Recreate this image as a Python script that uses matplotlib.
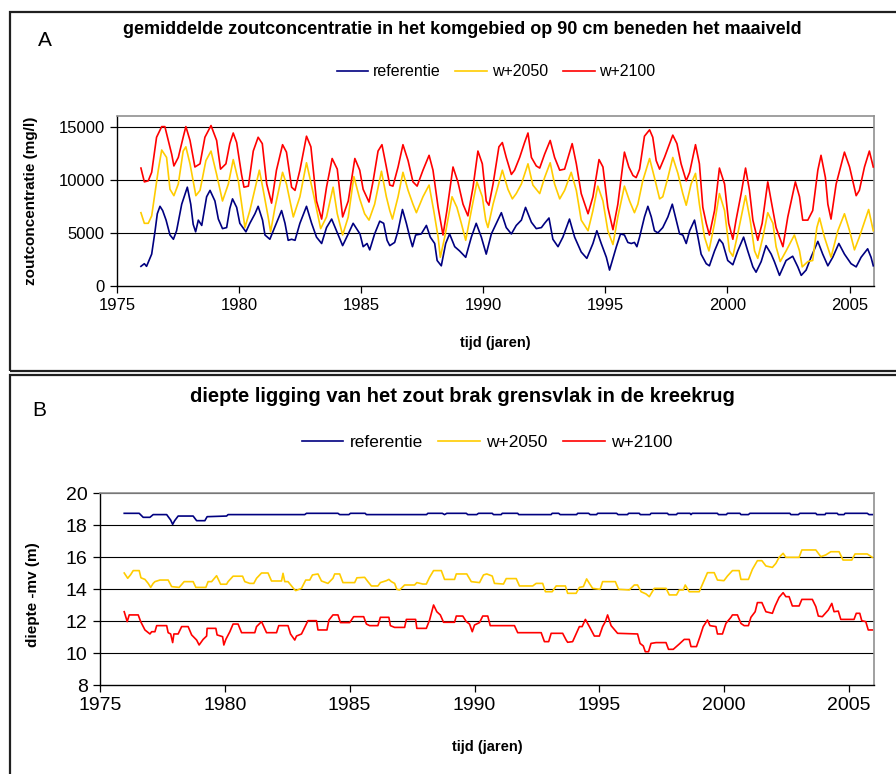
import matplotlib
matplotlib.use('Agg')
import matplotlib.pyplot as plt
from matplotlib.patches import Rectangle

plt.rcParams['font.family'] = ['Liberation Sans', 'DejaVu Sans']

# gemiddelde zoutconcentratie komgebied, 90 cm -mv (jaar, mg/l)
zout_referentie = [
    (1975.98, 1850), (1976.12, 2100), (1976.21, 1850), (1976.42, 3000), (1976.56, 5200),
    (1976.65, 6800), (1976.76, 7500), (1976.87, 7100), (1977.01, 6200), (1977.17, 4800),
    (1977.31, 4400), (1977.44, 5200), (1977.65, 7700), (1977.88, 9300), (1978.02, 7700),
    (1978.12, 5800), (1978.22, 5100), (1978.33, 6200), (1978.47, 5700), (1978.67, 8400),
    (1978.81, 9000), (1979.01, 8000), (1979.15, 6300), (1979.32, 5400), (1979.49, 5500),
    (1979.62, 7300), (1979.73, 8200), (1979.90, 7400), (1980.03, 5900), (1980.28, 5100),
    (1980.44, 5900), (1980.65, 6800), (1980.78, 7500), (1980.96, 6200), (1981.06, 4800),
    (1981.26, 4400), (1981.40, 5200), (1981.74, 7100), (1981.88, 5900), (1982.01, 4300),
    (1982.15, 4400), (1982.29, 4300), (1982.49, 5900), (1982.76, 7500), (1982.97, 5900),
    (1983.17, 4600), (1983.38, 4000), (1983.58, 5500), (1983.79, 6300), (1983.99, 5200),
    (1984.24, 3800), (1984.47, 4900), (1984.67, 5900), (1984.95, 4900), (1985.08, 3700),
    (1985.24, 4000), (1985.35, 3400), (1985.55, 4900), (1985.76, 6100), (1985.92, 5900),
    (1986.06, 4300), (1986.17, 3800), (1986.37, 4100), (1986.51, 5200), (1986.69, 7200),
    (1986.85, 5900), (1986.99, 4600), (1987.10, 3700), (1987.23, 4800), (1987.46, 4900),
    (1987.67, 5700), (1987.83, 4600), (1988.01, 4000), (1988.11, 2400), (1988.28, 1900),
    (1988.46, 4000), (1988.62, 4900), (1988.83, 3700), (1989.03, 3300), (1989.28, 2700),
    (1989.51, 4600), (1989.71, 5900), (1989.92, 4600), (1990.12, 3000), (1990.33, 4900),
    (1990.74, 6900), (1990.94, 5500), (1991.15, 4900), (1991.35, 5700), (1991.56, 6200),
    (1991.73, 7400), (1991.97, 6000), (1992.17, 5400), (1992.38, 5500), (1992.51, 5900),
    (1992.69, 6400), (1992.85, 4400), (1993.06, 3700), (1993.26, 4600), (1993.53, 6300),
    (1993.74, 4600), (1994.01, 3200), (1994.24, 2600), (1994.49, 4000), (1994.65, 5200),
    (1994.83, 4000), (1995.04, 2700), (1995.17, 1500), (1995.45, 3700), (1995.62, 4900),
    (1995.78, 4800), (1995.92, 4100), (1996.06, 4000), (1996.19, 4100), (1996.29, 3700),
    (1996.40, 4600), (1996.60, 6500), (1996.74, 7500), (1996.88, 6500), (1997.01, 5200),
    (1997.15, 5000), (1997.35, 5500), (1997.56, 6500), (1997.74, 7700), (1997.87, 6500),
    (1998.04, 4900), (1998.17, 4800), (1998.31, 4000), (1998.45, 5200), (1998.65, 6200),
    (1998.79, 4600), (1998.92, 3000), (1999.13, 2100), (1999.26, 1900), (1999.47, 3300),
    (1999.67, 4400), (1999.81, 4000), (2000.01, 2400), (2000.22, 2000), (2000.42, 3300),
    (2000.66, 4600), (2000.83, 3300), (2001.04, 1800), (2001.17, 1300), (2001.38, 2300),
    (2001.58, 3800), (2001.79, 3000), (2001.92, 2300), (2002.13, 1000), (2002.40, 2400),
    (2002.67, 2800), (2002.88, 1800), (2003.02, 1000), (2003.22, 1500), (2003.42, 2700),
    (2003.70, 4200), (2003.90, 3000), (2004.11, 1900), (2004.31, 2700), (2004.56, 4000),
    (2004.79, 3000), (2005.06, 2100), (2005.27, 1800), (2005.47, 2700), (2005.74, 3500),
    (2005.88, 2700), (2005.97, 1900),
]

zout_w2050 = [
    (1975.98, 6900), (1976.12, 5900), (1976.28, 5900), (1976.42, 6600), (1976.69, 10900),
    (1976.83, 12800), (1977.03, 12100), (1977.17, 9100), (1977.33, 8500), (1977.51, 9600),
    (1977.71, 12700), (1977.82, 13100), (1977.99, 11500), (1978.23, 8500), (1978.40, 9000),
    (1978.64, 11800), (1978.85, 12700), (1979.08, 10500), (1979.32, 8000), (1979.56, 9600),
    (1979.76, 11900), (1979.97, 9900), (1980.24, 5500), (1980.44, 7100), (1980.83, 10900),
    (1980.99, 9000), (1981.19, 6500), (1981.29, 5100), (1981.47, 7400), (1981.78, 10700),
    (1981.94, 9600), (1982.22, 6500), (1982.49, 8400), (1982.76, 11600), (1983.04, 8700),
    (1983.34, 5400), (1983.58, 6500), (1983.85, 9300), (1984.02, 6800), (1984.24, 4800),
    (1984.47, 6500), (1984.70, 10300), (1984.94, 8200), (1985.14, 6800), (1985.32, 6200),
    (1985.55, 7700), (1985.83, 10800), (1986.03, 8400), (1986.17, 7100), (1986.28, 6300),
    (1986.51, 8400), (1986.71, 10700), (1986.92, 9000), (1987.12, 7700), (1987.26, 6900),
    (1987.53, 8400), (1987.78, 9500), (1987.97, 7100), (1988.15, 4600), (1988.24, 2700),
    (1988.42, 4600), (1988.72, 8400), (1988.92, 7400), (1989.10, 5900), (1989.28, 4300),
    (1989.51, 7100), (1989.74, 9800), (1989.96, 8400), (1990.10, 6200), (1990.19, 5500),
    (1990.40, 7700), (1990.78, 10900), (1991.01, 9100), (1991.19, 8200), (1991.35, 8700),
    (1991.56, 9600), (1991.83, 11500), (1992.03, 9500), (1992.31, 8700), (1992.51, 10200),
    (1992.74, 11600), (1992.92, 9600), (1993.13, 8200), (1993.33, 9000), (1993.60, 10700),
    (1993.81, 9000), (1994.01, 6200), (1994.29, 5200), (1994.49, 7100), (1994.69, 9400),
    (1994.90, 8000), (1995.10, 5200), (1995.31, 3900), (1995.51, 6500), (1995.78, 9400),
    (1995.99, 8000), (1996.19, 6900), (1996.33, 7700), (1996.53, 9900), (1996.81, 12000),
    (1997.01, 10200), (1997.22, 8200), (1997.35, 8400), (1997.56, 10200), (1997.76, 12100),
    (1997.97, 10600), (1998.17, 8700), (1998.31, 7600), (1998.51, 9600), (1998.69, 10600),
    (1998.85, 7700), (1999.06, 4600), (1999.24, 3300), (1999.47, 5900), (1999.67, 8700),
    (1999.88, 7100), (2000.08, 3300), (2000.22, 2800), (2000.42, 4900), (2000.74, 8500),
    (2000.93, 6200), (2001.11, 3300), (2001.24, 2600), (2001.45, 4600), (2001.65, 6900),
    (2001.86, 5900), (2001.99, 3700), (2002.16, 2300), (2002.40, 3300), (2002.74, 4800),
    (2002.95, 3300), (2003.06, 1800), (2003.29, 2300), (2003.49, 2400), (2003.66, 5500),
    (2003.77, 6400), (2003.97, 4600), (2004.24, 2700), (2004.52, 5200), (2004.79, 6800),
    (2005.00, 5200), (2005.20, 3400), (2005.40, 4600), (2005.78, 7200), (2005.97, 5200),
]

zout_w2100 = [
    (1975.98, 11100), (1976.12, 9800), (1976.28, 9900), (1976.42, 10700), (1976.62, 14000),
    (1976.83, 15000), (1976.96, 15000), (1977.10, 13700), (1977.24, 12400), (1977.33, 11300),
    (1977.51, 12100), (1977.71, 14000), (1977.82, 15000), (1977.99, 13700), (1978.19, 11200),
    (1978.40, 11500), (1978.60, 14000), (1978.85, 15100), (1979.08, 13700), (1979.24, 11000),
    (1979.46, 11500), (1979.62, 13400), (1979.76, 14400), (1979.90, 13500), (1980.10, 10500),
    (1980.20, 9300), (1980.38, 9400), (1980.58, 12700), (1980.78, 14000), (1980.95, 13400),
    (1981.13, 9600), (1981.33, 7800), (1981.53, 10900), (1981.78, 13300), (1981.94, 12600),
    (1982.15, 9300), (1982.29, 9000), (1982.49, 10900), (1982.76, 14100), (1982.94, 13100),
    (1983.17, 8000), (1983.38, 6300), (1983.58, 9300), (1983.81, 12000), (1984.02, 11000),
    (1984.24, 6500), (1984.47, 8000), (1984.74, 12000), (1984.94, 10900), (1985.08, 9100),
    (1985.32, 7900), (1985.49, 9900), (1985.69, 12700), (1985.85, 13300), (1986.03, 11200),
    (1986.17, 9500), (1986.30, 9400), (1986.51, 11200), (1986.71, 13300), (1986.92, 11800),
    (1987.12, 9800), (1987.29, 9400), (1987.53, 10900), (1987.78, 12300), (1987.94, 10900),
    (1988.15, 7400), (1988.35, 4800), (1988.51, 7100), (1988.76, 11200), (1988.96, 9800),
    (1989.17, 7700), (1989.37, 6600), (1989.58, 9300), (1989.78, 12700), (1989.96, 11500),
    (1990.12, 8000), (1990.23, 7600), (1990.40, 9600), (1990.64, 13100), (1990.78, 13500),
    (1990.94, 12100), (1991.15, 10500), (1991.28, 10900), (1991.49, 12100), (1991.69, 13500),
    (1991.83, 14400), (1991.97, 12100), (1992.17, 11300), (1992.31, 11100), (1992.51, 12400),
    (1992.74, 13700), (1992.92, 12100), (1993.13, 10900), (1993.33, 11000), (1993.64, 13400),
    (1993.81, 11500), (1994.01, 8700), (1994.29, 6800), (1994.49, 8400), (1994.74, 11900),
    (1994.90, 11200), (1995.10, 7400), (1995.31, 5300), (1995.51, 7700), (1995.78, 12600),
    (1995.96, 11200), (1996.13, 10400), (1996.26, 10200), (1996.40, 11000), (1996.60, 14100),
    (1996.81, 14700), (1996.94, 14000), (1997.08, 11800), (1997.22, 11000), (1997.42, 12100),
    (1997.76, 14200), (1997.93, 13400), (1998.10, 11500), (1998.31, 9900), (1998.45, 10700),
    (1998.58, 12100), (1998.69, 13300), (1998.85, 11500), (1998.99, 7400), (1999.13, 5900),
    (1999.26, 4800), (1999.47, 7100), (1999.67, 11100), (1999.88, 9600), (2000.05, 5900),
    (2000.22, 4400), (2000.35, 6200), (2000.56, 8700), (2000.74, 11100), (2000.90, 9000),
    (2001.04, 6200), (2001.24, 4300), (2001.42, 5900), (2001.65, 9800), (2001.79, 8000),
    (2001.99, 5500), (2002.27, 3700), (2002.47, 6500), (2002.78, 9800), (2002.95, 8400),
    (2003.08, 6200), (2003.29, 6200), (2003.49, 7100), (2003.70, 10900), (2003.83, 12300),
    (2004.01, 10200), (2004.11, 7700), (2004.24, 6300), (2004.45, 9600), (2004.79, 12600),
    (2005.00, 11200), (2005.27, 8500), (2005.40, 9000), (2005.61, 11200), (2005.81, 12700),
    (2005.97, 11200),
]

# diepte zout/brak grensvlak kreekrug (jaar, m -mv)
diepte_referentie = [
    (1975.97, 18.73), (1976.57, 18.73), (1976.73, 18.48), (1977.00, 18.48), (1977.13, 18.65),
    (1977.67, 18.65), (1977.83, 18.31), (1977.91, 18.04), (1977.99, 18.27), (1978.13, 18.56),
    (1978.73, 18.56), (1978.87, 18.27), (1979.20, 18.27), (1979.29, 18.52), (1980.07, 18.56),
    (1980.13, 18.65), (1983.20, 18.65), (1983.27, 18.73), (1984.53, 18.73), (1984.60, 18.65),
    (1984.97, 18.65), (1985.03, 18.73), (1985.62, 18.73), (1985.67, 18.65), (1988.08, 18.65),
    (1988.13, 18.73), (1988.71, 18.73), (1988.80, 18.65), (1988.89, 18.73), (1989.67, 18.73),
    (1989.73, 18.65), (1990.09, 18.65), (1990.16, 18.73), (1990.71, 18.73), (1990.76, 18.65),
    (1991.07, 18.65), (1991.11, 18.73), (1991.73, 18.73), (1991.77, 18.65), (1993.07, 18.65),
    (1993.11, 18.73), (1993.37, 18.73), (1993.43, 18.65), (1994.09, 18.65), (1994.13, 18.73),
    (1994.57, 18.73), (1994.63, 18.65), (1994.89, 18.65), (1994.93, 18.73), (1995.69, 18.73),
    (1995.75, 18.65), (1996.13, 18.65), (1996.17, 18.73), (1996.60, 18.73), (1996.64, 18.65),
    (1997.03, 18.65), (1997.07, 18.73), (1997.73, 18.73), (1997.77, 18.65), (1998.09, 18.65),
    (1998.13, 18.73), (1998.63, 18.73), (1998.67, 18.65), (1998.72, 18.73), (1999.73, 18.73),
    (1999.77, 18.65), (2000.09, 18.65), (2000.13, 18.73), (2000.63, 18.73), (2000.67, 18.65),
    (2000.97, 18.65), (2001.03, 18.73), (2002.63, 18.73), (2002.67, 18.65), (2002.97, 18.65),
    (2003.03, 18.73), (2003.67, 18.73), (2003.71, 18.65), (2004.04, 18.65), (2004.07, 18.73),
    (2004.53, 18.73), (2004.57, 18.65), (2004.80, 18.65), (2004.84, 18.73), (2005.73, 18.73),
    (2005.80, 18.65), (2005.93, 18.65),
]

diepte_w2050 = [
    (1975.97, 15.00), (1976.11, 14.67), (1976.23, 14.90), (1976.33, 15.15), (1976.57, 15.15),
    (1976.64, 14.70), (1976.80, 14.60), (1976.93, 14.35), (1977.03, 14.10), (1977.13, 14.35),
    (1977.20, 14.46), (1977.40, 14.56), (1977.73, 14.56), (1977.87, 14.15), (1978.17, 14.10),
    (1978.37, 14.46), (1978.73, 14.46), (1978.84, 14.10), (1979.24, 14.10), (1979.33, 14.46),
    (1979.47, 14.46), (1979.67, 14.83), (1979.83, 14.30), (1980.07, 14.30), (1980.13, 14.46),
    (1980.33, 14.80), (1980.71, 14.80), (1980.80, 14.46), (1981.00, 14.35), (1981.16, 14.35),
    (1981.27, 14.67), (1981.47, 15.00), (1981.73, 15.00), (1981.87, 14.50), (1982.27, 14.50),
    (1982.33, 14.98), (1982.40, 14.46), (1982.53, 14.46), (1982.77, 14.00), (1982.84, 13.90),
    (1983.07, 14.04), (1983.24, 14.56), (1983.40, 14.56), (1983.51, 14.88), (1983.73, 14.94),
    (1983.87, 14.50), (1984.13, 14.35), (1984.33, 14.67), (1984.40, 14.94), (1984.60, 14.94),
    (1984.73, 14.40), (1985.20, 14.40), (1985.29, 14.70), (1985.60, 14.73), (1985.73, 14.46),
    (1985.87, 14.19), (1986.13, 14.19), (1986.23, 14.40), (1986.47, 14.52), (1986.57, 14.60),
    (1986.67, 14.46), (1986.80, 14.35), (1986.89, 13.98), (1987.00, 13.94), (1987.20, 14.25),
    (1987.60, 14.25), (1987.69, 14.40), (1987.93, 14.31), (1988.07, 14.31), (1988.20, 14.73),
    (1988.36, 15.15), (1988.67, 15.15), (1988.80, 14.60), (1989.20, 14.60), (1989.27, 14.94),
    (1989.69, 14.94), (1989.87, 14.46), (1990.20, 14.40), (1990.36, 14.88), (1990.49, 14.94),
    (1990.71, 14.81), (1990.80, 14.35), (1991.16, 14.31), (1991.27, 14.65), (1991.67, 14.65),
    (1991.80, 14.19), (1992.33, 14.19), (1992.47, 14.35), (1992.73, 14.35), (1992.84, 13.83),
    (1993.11, 13.83), (1993.27, 14.19), (1993.64, 14.19), (1993.73, 13.73), (1994.07, 13.73),
    (1994.20, 14.10), (1994.36, 14.15), (1994.49, 14.63), (1994.60, 14.35), (1994.73, 14.04),
    (1995.03, 13.98), (1995.13, 14.46), (1995.64, 14.46), (1995.77, 13.98), (1996.20, 13.94),
    (1996.40, 14.25), (1996.53, 14.25), (1996.67, 13.83), (1996.87, 13.69), (1997.00, 13.52),
    (1997.20, 14.04), (1997.67, 14.04), (1997.80, 13.63), (1998.09, 13.63), (1998.20, 13.94),
    (1998.36, 13.94), (1998.44, 14.25), (1998.60, 13.83), (1999.00, 13.83), (1999.20, 14.56),
    (1999.33, 15.02), (1999.60, 15.02), (1999.73, 14.56), (1999.99, 14.52), (2000.13, 14.81),
    (2000.33, 15.15), (2000.60, 15.15), (2000.67, 14.60), (2000.97, 14.60), (2001.13, 15.23),
    (2001.33, 15.77), (2001.51, 15.77), (2001.67, 15.44), (2001.93, 15.35), (2002.07, 15.60),
    (2002.20, 15.98), (2002.36, 16.23), (2002.47, 15.98), (2003.00, 15.98), (2003.11, 16.44),
    (2003.67, 16.44), (2003.87, 16.02), (2004.07, 16.13), (2004.27, 16.33), (2004.60, 16.33),
    (2004.76, 15.81), (2005.11, 15.81), (2005.24, 16.19), (2005.73, 16.19), (2005.93, 15.98),
]

diepte_w2100 = [
    (1975.97, 12.58), (1976.09, 11.96), (1976.17, 12.38), (1976.53, 12.38), (1976.63, 11.96),
    (1976.80, 11.44), (1977.00, 11.19), (1977.07, 11.33), (1977.20, 11.33), (1977.27, 11.71),
    (1977.67, 11.71), (1977.73, 11.27), (1977.83, 11.19), (1977.91, 10.65), (1977.96, 11.19),
    (1978.13, 11.19), (1978.27, 11.65), (1978.53, 11.65), (1978.67, 11.13), (1978.87, 10.81),
    (1978.97, 10.50), (1979.13, 10.85), (1979.27, 11.06), (1979.29, 11.54), (1979.64, 11.54),
    (1979.69, 11.13), (1979.91, 11.02), (1979.96, 10.50), (1980.04, 10.85), (1980.20, 11.33),
    (1980.33, 11.81), (1980.53, 11.81), (1980.67, 11.27), (1981.20, 11.27), (1981.27, 11.65),
    (1981.47, 11.96), (1981.56, 11.65), (1981.67, 11.27), (1982.07, 11.27), (1982.16, 11.71),
    (1982.53, 11.71), (1982.63, 11.19), (1982.80, 10.81), (1982.87, 11.06), (1983.07, 11.19),
    (1983.33, 12.02), (1983.67, 12.02), (1983.73, 11.44), (1984.09, 11.44), (1984.17, 12.06),
    (1984.33, 12.38), (1984.53, 12.38), (1984.63, 11.90), (1985.00, 11.90), (1985.16, 12.27),
    (1985.56, 12.27), (1985.67, 11.81), (1985.80, 11.71), (1986.13, 11.71), (1986.23, 12.23),
    (1986.57, 12.23), (1986.63, 11.71), (1986.80, 11.60), (1987.20, 11.60), (1987.27, 12.10),
    (1987.64, 12.10), (1987.69, 11.54), (1988.07, 11.54), (1988.20, 12.06), (1988.27, 12.48),
    (1988.36, 13.00), (1988.49, 12.58), (1988.63, 12.38), (1988.76, 11.92), (1989.20, 11.92),
    (1989.27, 12.31), (1989.53, 12.31), (1989.67, 11.96), (1989.80, 11.81), (1989.91, 11.33),
    (1990.00, 11.75), (1990.20, 11.90), (1990.33, 12.31), (1990.53, 12.31), (1990.63, 11.71),
    (1991.60, 11.71), (1991.73, 11.27), (1992.67, 11.27), (1992.80, 10.71), (1992.97, 10.71),
    (1993.07, 11.23), (1993.53, 11.23), (1993.67, 10.81), (1993.73, 10.67), (1993.93, 10.71),
    (1994.07, 11.19), (1994.20, 11.65), (1994.31, 11.65), (1994.44, 12.10), (1994.60, 11.65),
    (1994.80, 11.06), (1995.00, 11.06), (1995.13, 11.65), (1995.24, 11.96), (1995.33, 12.38),
    (1995.47, 11.71), (1995.73, 11.23), (1996.53, 11.19), (1996.63, 10.60), (1996.76, 10.44),
    (1996.84, 10.08), (1996.97, 10.08), (1997.07, 10.60), (1997.27, 10.65), (1997.67, 10.65),
    (1997.77, 10.23), (1997.96, 10.23), (1998.20, 10.56), (1998.40, 10.85), (1998.60, 10.85),
    (1998.67, 10.40), (1998.89, 10.40), (1999.03, 11.02), (1999.16, 11.65), (1999.33, 12.06),
    (1999.43, 11.71), (1999.67, 11.65), (1999.73, 11.19), (1999.93, 11.19), (2000.07, 11.85),
    (2000.27, 12.23), (2000.33, 12.38), (2000.53, 12.38), (2000.67, 11.85), (2000.80, 11.71),
    (2000.97, 11.71), (2001.07, 12.23), (2001.24, 12.58), (2001.33, 13.15), (2001.51, 13.15),
    (2001.67, 12.58), (2001.93, 12.48), (2002.04, 12.94), (2002.20, 13.48), (2002.36, 13.77),
    (2002.47, 13.52), (2002.60, 13.52), (2002.73, 12.94), (2003.00, 12.94), (2003.11, 13.35),
    (2003.53, 13.35), (2003.67, 12.90), (2003.77, 12.31), (2003.93, 12.27), (2004.17, 12.69),
    (2004.31, 13.10), (2004.40, 12.58), (2004.57, 12.62), (2004.67, 12.10), (2005.20, 12.10),
    (2005.29, 12.48), (2005.43, 12.48), (2005.51, 12.02), (2005.67, 11.96), (2005.77, 11.44),
    (2005.93, 11.44),
]

jaar_ticks = [1975, 1980, 1985, 1990, 1995, 2000, 2005]
zout_ticks = [0, 5000, 10000, 15000]
diepte_ticks = [8, 10, 12, 14, 16, 18, 20]
legenda = ['referentie', 'w+2050', 'w+2100']
kleuren = ['#000080', '#FFCC00', '#FF0000']

W, H = 896, 774
fig = plt.figure(figsize=(W / 100, H / 100), dpi=100)


def fx(px):
    return px / W


def fy(py):
    return 1 - py / H


# kaders rond beide grafieken
for top, bottom in [(12, 371), (375, 800)]:
    fig.patches.append(Rectangle((fx(10), fy(bottom)), fx(1000), fy(top) - fy(bottom),
                                 transform=fig.transFigure, fill=False,
                                 edgecolor='#202020', linewidth=1.6, zorder=0))


def opmaak(ax, ylim, yticks):
    ax.set_xlim(1975, 2006)
    ax.set_ylim(*ylim)
    ax.set_xticks(jaar_ticks)
    ax.set_yticks(yticks)
    for y in yticks[1:]:
        ax.axhline(y, color='black', linewidth=0.8, zorder=1)
    ax.spines['top'].set_color('#909090')
    ax.spines['right'].set_color('#909090')
    ax.spines['top'].set_linewidth(1.2)
    ax.spines['right'].set_linewidth(1.2)
    ax.spines['left'].set_linewidth(1.0)
    ax.spines['bottom'].set_linewidth(1.0)
    ax.tick_params(direction='out', length=5, width=0.9, labelsize=12, pad=4)


def teken(ax, reeksen):
    for reeks, kleur, naam in zip(reeksen, kleuren, legenda):
        jaren, waarden = zip(*reeks)
        ax.plot(jaren, waarden, color=kleur, linewidth=1.2, label=naam, zorder=3)


# A: zoutconcentratie
axA = fig.add_axes([fx(117), fy(286), fx(874 - 117), fy(116) - fy(286)])
teken(axA, [zout_referentie, zout_w2050, zout_w2100])
opmaak(axA, (0, 16000), zout_ticks)
axA.set_xlabel('tijd (jaren)', fontsize=10.5, fontweight='bold', labelpad=16)
axA.set_ylabel('zoutconcentratie (mg/l)', fontsize=11, fontweight='bold')
axA.yaxis.set_label_coords(fx(38 - 117) / fx(874 - 117), 0.5)
fig.text(fx(38), fy(40), 'A', fontsize=15, ha='left', va='center')
fig.text(fx(462), fy(30), 'gemiddelde zoutconcentratie in het komgebied op 90 cm beneden het maaiveld',
         fontsize=13, fontweight='bold', ha='center', va='center')
fig.legend(*axA.get_legend_handles_labels(), loc='center', bbox_to_anchor=(fx(496), fy(72)),
           ncol=3, frameon=False, fontsize=11.5, handlelength=2.0, handletextpad=0.3,
           columnspacing=0.9)

# B: diepte grensvlak
axB = fig.add_axes([fx(100), fy(685), fx(874 - 100), fy(493) - fy(685)])
teken(axB, [diepte_referentie, diepte_w2050, diepte_w2100])
opmaak(axB, (8, 20), diepte_ticks)
axB.set_xlabel('tijd (jaren)', fontsize=10.5, fontweight='bold', labelpad=18)
axB.set_ylabel('diepte -mv (m)', fontsize=11, fontweight='bold')
axB.yaxis.set_label_coords(fx(40 - 100) / fx(874 - 100), 0.47)
axB.tick_params(labelsize=14)
fig.text(fx(32), fy(410), 'B', fontsize=15, ha='left', va='center')
fig.text(fx(462), fy(397), 'diepte ligging van het zout brak grensvlak in de kreekrug',
         fontsize=14.5, fontweight='bold', ha='center', va='center')
fig.legend(*axB.get_legend_handles_labels(), loc='center', bbox_to_anchor=(fx(487), fy(442)),
           ncol=3, frameon=False, fontsize=12.5, handlelength=2.4, handletextpad=0.35,
           columnspacing=0.9)

fig.savefig('out.png', dpi=100)
